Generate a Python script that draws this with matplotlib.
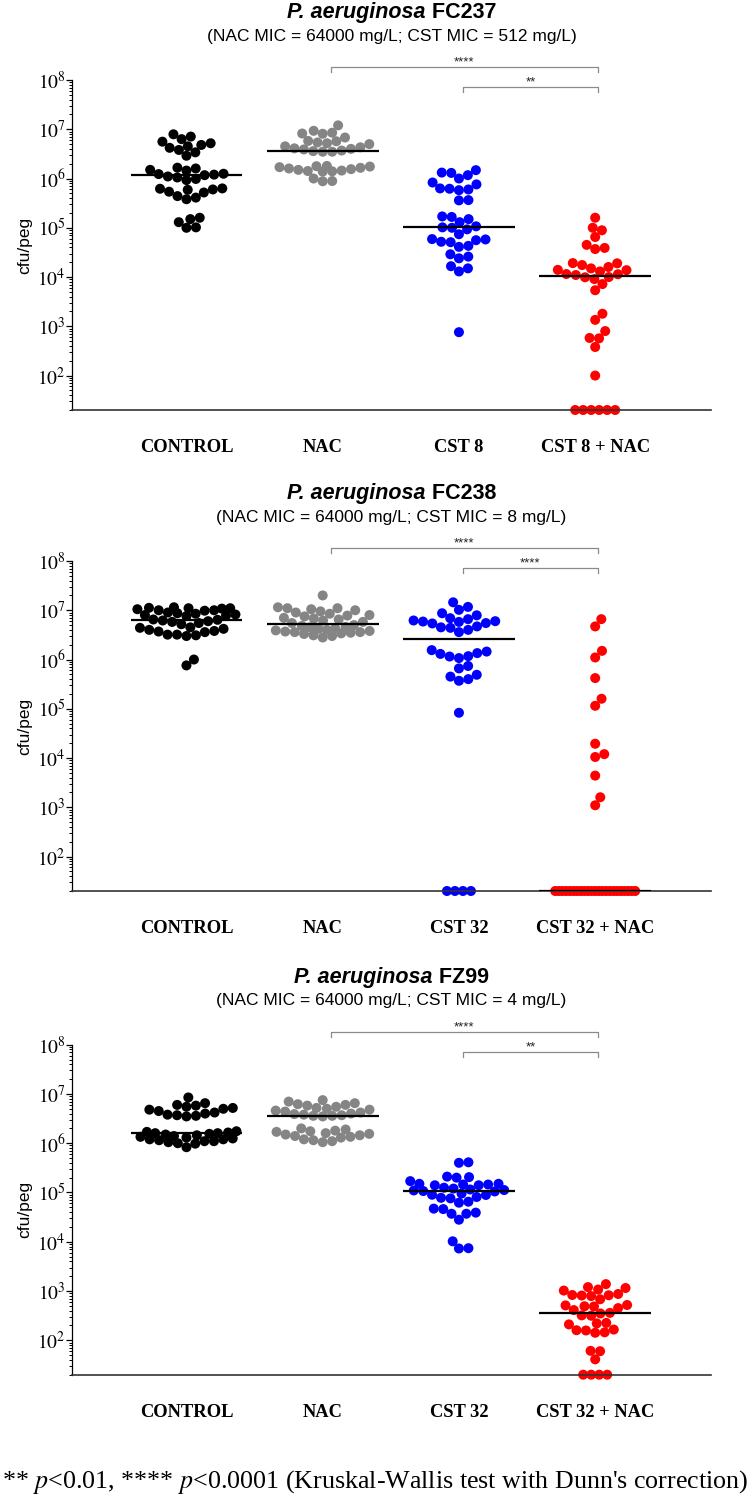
import numpy as np
import matplotlib
matplotlib.use("Agg")
import matplotlib.pyplot as plt
from matplotlib.ticker import FixedLocator, LogLocator, NullFormatter

plt.rcParams['mathtext.fontset'] = 'stix'
plt.rcParams['font.family'] = 'Liberation Sans'

# cfu/peg per well; 20 = nothing recovered (drawn on the floor)
fc237_control = [7.9e6, 7.1e6, 6.3e6, 5.6e6, 5.2e6, 4.8e6, 4.5e6, 4.2e6, 3.8e6, 3.4e6, 2.9e6,
                 1.66e6, 1.6e6, 1.5e6, 1.45e6, 1.25e6, 1.23e6, 1.2e6, 1.17e6, 1.1e6, 1.05e6,
                 9.8e5, 9.3e5, 6.3e5, 6.2e5, 6.0e5, 5.9e5, 5.4e5, 5.2e5, 4.4e5, 4.1e5, 3.8e5,
                 1.6e5, 1.5e5, 1.3e5, 1.02e5, 1.0e5]
fc237_nac = [1.2e7, 9.3e6, 8.5e6, 8.2e6, 8.1e6, 6.8e6, 5.8e6, 5.7e6, 5.4e6, 5.2e6, 5.0e6, 4.5e6,
             4.3e6, 4.1e6, 4.0e6, 3.9e6, 3.7e6, 3.6e6, 3.5e6, 3.5e6, 1.8e6, 1.78e6, 1.75e6,
             1.7e6, 1.65e6, 1.6e6, 1.55e6, 1.5e6, 1.45e6, 1.42e6, 1.4e6, 1.38e6, 1.0e6, 8.9e5, 8.8e5]
fc237_cst = [1.48e6, 1.32e6, 1.3e6, 1.17e6, 1.0e6, 8.3e5, 7.6e5, 6.3e5, 6.2e5, 6.0e5, 5.8e5,
             3.65e5, 3.6e5, 1.7e5, 1.66e5, 1.5e5, 1.3e5, 1.07e5, 1.02e5, 1.0e5, 9.3e4, 7.4e4,
             5.9e4, 5.8e4, 5.6e4, 5.2e4, 5.1e4, 4.3e4, 4.1e4, 2.9e4, 2.6e4, 2.4e4, 1.66e4,
             1.5e4, 1.3e4, 760]
fc237_cst_nac = [1.6e5, 1.0e5, 8.9e4, 6.5e4, 4.5e4, 3.9e4, 3.7e4, 1.92e4, 1.9e4, 1.75e4, 1.6e4,
                 1.5e4, 1.4e4, 1.38e4, 1.3e4, 1.15e4, 1.14e4, 1.1e4, 1.0e4, 9.9e3, 9.1e3, 7.2e3,
                 5.4e3, 1.8e3, 1.35e3, 800, 580, 570, 380, 100, 20, 20, 20, 20, 20, 20]

fc238_control = [1.15e7, 1.12e7, 1.1e7, 1.1e7, 1.08e7, 1.05e7, 1.0e7, 1.0e7, 9.8e6, 9.0e6, 8.7e6,
                 8.5e6, 8.2e6, 8.0e6, 7.8e6, 7.6e6, 6.5e6, 6.4e6, 6.2e6, 6.0e6, 5.8e6, 5.5e6,
                 5.2e6, 4.5e6, 4.4e6, 4.2e6, 4.0e6, 3.8e6, 3.7e6, 3.6e6, 3.2e6, 3.2e6, 3.1e6,
                 3.0e6, 1.0e6, 7.6e5]
fc238_nac = [2.0e7, 1.15e7, 1.1e7, 1.1e7, 1.05e7, 1.0e7, 9.5e6, 9.0e6, 8.5e6, 8.0e6, 7.8e6, 7.5e6,
             7.0e6, 6.8e6, 6.5e6, 6.2e6, 5.8e6, 5.5e6, 5.0e6, 4.8e6, 4.6e6, 4.5e6, 4.3e6, 4.2e6,
             4.0e6, 3.9e6, 3.8e6, 3.7e6, 3.6e6, 3.6e6, 3.5e6, 3.4e6, 3.3e6, 3.1e6, 3.0e6, 2.8e6]
fc238_cst = [1.45e7, 1.17e7, 1.02e7, 8.7e6, 7.9e6, 6.9e6, 6.6e6, 6.2e6, 6.0e6, 5.9e6, 5.8e6, 5.5e6,
             5.4e6, 4.7e6, 4.5e6, 4.4e6, 4.0e6, 3.6e6, 1.55e6, 1.45e6, 1.35e6, 1.3e6, 1.17e6,
             1.15e6, 1.07e6, 7.4e5, 6.6e5, 4.9e5, 4.5e5, 4.0e5, 3.7e5, 8.3e4, 20, 20, 20, 20]
fc238_cst_nac = [6.6e6, 4.7e6, 1.5e6, 1.1e6, 4.2e5, 1.6e5, 1.15e5, 1.95e4, 1.2e4, 1.05e4, 4.4e3,
                 1.6e3, 1.1e3, 20, 20, 20, 20, 20, 20, 20, 20, 20, 20, 20, 20, 20, 20, 20, 20,
                 20, 20, 20, 20, 20, 20, 20]

fz99_control = [8.5e6, 6.5e6, 6.0e6, 5.8e6, 5.5e6, 5.2e6, 5.0e6, 4.8e6, 4.5e6, 4.2e6, 4.0e6, 3.8e6,
                3.7e6, 3.6e6, 3.5e6, 1.75e6, 1.7e6, 1.65e6, 1.6e6, 1.6e6, 1.55e6, 1.5e6, 1.45e6,
                1.4e6, 1.35e6, 1.3e6, 1.25e6, 1.2e6, 1.2e6, 1.15e6, 1.1e6, 1.1e6, 1.05e6, 1.0e6,
                9.8e5, 8.3e5]
fz99_nac = [7.5e6, 7.0e6, 6.5e6, 6.2e6, 6.0e6, 5.8e6, 5.5e6, 5.2e6, 5.0e6, 4.8e6, 4.6e6, 4.4e6,
            4.2e6, 4.0e6, 3.9e6, 3.8e6, 3.7e6, 3.6e6, 3.6e6, 3.5e6, 2.0e6, 1.9e6, 1.8e6, 1.75e6,
            1.7e6, 1.6e6, 1.55e6, 1.5e6, 1.45e6, 1.4e6, 1.35e6, 1.3e6, 1.2e6, 1.15e6, 1.1e6, 1.05e6]
fz99_cst = [4.1e5, 4.0e5, 2.1e5, 2.05e5, 2.0e5, 1.7e5, 1.5e5, 1.5e5, 1.45e5, 1.45e5, 1.4e5, 1.4e5,
            1.25e5, 1.2e5, 1.15e5, 1.12e5, 1.1e5, 1.07e5, 1.05e5, 9.5e4, 9.0e4, 8.9e4, 8.1e4,
            7.8e4, 7.6e4, 6.5e4, 6.2e4, 4.7e4, 4.6e4, 3.9e4, 3.7e4, 3.7e4, 2.8e4, 1.02e4, 7.4e3, 7.3e3]
fz99_cst_nac = [1380, 1200, 1150, 1070, 1020, 870, 830, 820, 810, 790, 680, 520, 510, 490, 485, 450,
                410, 360, 350, 320, 315, 225, 220, 210, 165, 160, 158, 145, 142, 61, 60, 41,
                20, 20, 20, 20]

FLOOR = 20
strains = ["FC237", "FC238", "FZ99"]
subtitles = ["(NAC MIC = 64000 mg/L; CST MIC = 512 mg/L)",
             "(NAC MIC = 64000 mg/L; CST MIC = 8 mg/L)",
             "(NAC MIC = 64000 mg/L; CST MIC = 4 mg/L)"]
labels = [["CONTROL", "NAC", "CST 8", "CST 8 + NAC"],
          ["CONTROL", "NAC", "CST 32", "CST 32 + NAC"],
          ["CONTROL", "NAC", "CST 32", "CST 32 + NAC"]]
stars = [("****", "**"), ("****", "****"), ("****", "**")]
data = [[fc237_control, fc237_nac, fc237_cst, fc237_cst_nac],
        [fc238_control, fc238_nac, fc238_cst, fc238_cst_nac],
        [fz99_control, fz99_nac, fz99_cst, fz99_cst_nac]]
colors = ["#000000", "#858585", "#0000ff", "#ff0000"]

W, H = 750, 1498
ax_left, ax_right = 72, 711
ax_tops = [80, 561, 1044.7]
ax_h = 330
XLIM = (-0.84, 3.85)
PX_DEC = ax_h / np.log10(1e8 / FLOOR)
PX_UNIT = (ax_right - ax_left) / (XLIM[1] - XLIM[0])
DOT = 10.0  # marker diameter, px


def swarm(vals, half_w=50.0, floor_w=40.0):
    vals = np.asarray(vals, float)
    y = np.log10(vals) * PX_DEC
    x = np.zeros(len(vals))
    d = 0.95 * DOT
    placed = []
    fl = np.where(vals == FLOOR)[0]
    if len(fl) > 1:
        step = min(0.8 * DOT, 2 * floor_w / (len(fl) - 1))
        x[fl] = (np.arange(len(fl)) - (len(fl) - 1) / 2) * step
    placed.extend(fl.tolist())
    for i in np.argsort(y):
        if i in placed:
            continue
        near = [j for j in placed if abs(y[j] - y[i]) < d]
        cands = [0.0]
        for j in near:
            dx = np.sqrt(d ** 2 - (y[j] - y[i]) ** 2)
            cands += [x[j] + dx, x[j] - dx]
        cands.sort(key=abs)
        pos = None
        for c in cands:
            if abs(c) <= half_w and all((c - x[j]) ** 2 + (y[i] - y[j]) ** 2 >= d ** 2 - 1e-6 for j in near):
                pos = c
                break
        if pos is None:
            grid = np.linspace(-half_w, half_w, 49)
            gaps = [min((g - x[j]) ** 2 + (y[i] - y[j]) ** 2 for j in near) for g in grid]
            pos = grid[int(np.argmax(gaps))]
        x[i] = pos
        placed.append(i)
    return x / PX_UNIT


fig = plt.figure(figsize=(W / 100, H / 100), dpi=100)

for p in range(3):
    top = ax_tops[p]
    ax = fig.add_axes([ax_left / W, 1 - (top + ax_h) / H, (ax_right - ax_left) / W, ax_h / H])
    ax.set_yscale('log')
    for g in range(4):
        vals = data[p][g]
        xs = g + swarm(vals)
        ax.scatter(xs, vals, s=(DOT * 0.72) ** 2, color=colors[g], edgecolors='none',
                   zorder=2, clip_on=False)
        ax.hlines(np.median(vals), g - 0.41, g + 0.41, color='black', lw=1.6, zorder=3)
    ax.set_xlim(*XLIM)
    ax.set_ylim(FLOOR, 1e8)

    for s in ['top', 'right']:
        ax.spines[s].set_visible(False)
    ax.spines['left'].set_linewidth(0.9)
    ax.spines['bottom'].set_linewidth(1.2)
    ax.spines['bottom'].set_color('#333333')

    ax.yaxis.set_major_locator(FixedLocator([10.0 ** k for k in range(2, 9)]))
    ax.set_yticklabels([r'$10^{%d}$' % k for k in range(2, 9)])
    ax.yaxis.set_minor_locator(LogLocator(base=10, subs=np.arange(2, 10), numticks=20))
    ax.yaxis.set_minor_formatter(NullFormatter())
    ax.tick_params(axis='y', which='major', length=4.5, width=0.9, labelsize=14, pad=0)
    ax.tick_params(axis='y', which='minor', length=2.5, width=0.7)

    ax.set_xticks(range(4))
    ax.set_xticklabels(labels[p], fontfamily='Liberation Serif', fontweight='bold', fontsize=13.3)
    ax.tick_params(axis='x', length=0, pad=21)

    ax.set_ylabel('cfu/peg', fontsize=12.5)
    ax.yaxis.set_label_coords(-0.062, 0.5)

    # significance brackets
    tr = ax.get_xaxis_transform()
    dt = 5 / ax_h
    for (x0, yb, st) in [(1.06, 1 + 13 / ax_h, stars[p][0]), (2.03, 1 - 7 / ax_h, stars[p][1])]:
        x1 = 3.02
        ax.plot([x0, x0, x1, x1], [yb - dt, yb, yb, yb - dt], transform=tr, clip_on=False,
                color='#8a8a8a', lw=0.9)
        ax.text((x0 + x1) / 2, yb + 1.5 / ax_h, st, transform=tr, ha='center', va='baseline',
                fontsize=9.5, color='#222222')

    # title: italic species + bold strain
    xc = (ax_left + ax_right) / 2 / W
    yt = 1 - (top - 61.7) / H
    t1 = fig.text(0, yt, "P. aeruginosa", fontsize=15.5, fontweight='bold', fontstyle='italic',
                  va='baseline', ha='left')
    t2 = fig.text(0, yt, " " + strains[p], fontsize=15.5, fontweight='bold', va='baseline', ha='left')
    r = fig.canvas.get_renderer()
    w1 = t1.get_window_extent(r).width
    w2 = t2.get_window_extent(r).width
    x0 = xc - (w1 + w2) / 2 / W
    t1.set_x(x0)
    t2.set_x(x0 + w1 / W)
    fig.text(xc, 1 - (top - 39.5) / H, subtitles[p], fontsize=12.5, ha='center', va='baseline')

fig.text(0.5, 1 - 1482 / H,
         r"** $p$<0.01, **** $p$<0.0001 (Kruskal-Wallis test with Dunn's correction)",
         ha='center', va='center', fontsize=18.7, fontfamily='Liberation Serif')

fig.savefig('out.png', dpi=100)
